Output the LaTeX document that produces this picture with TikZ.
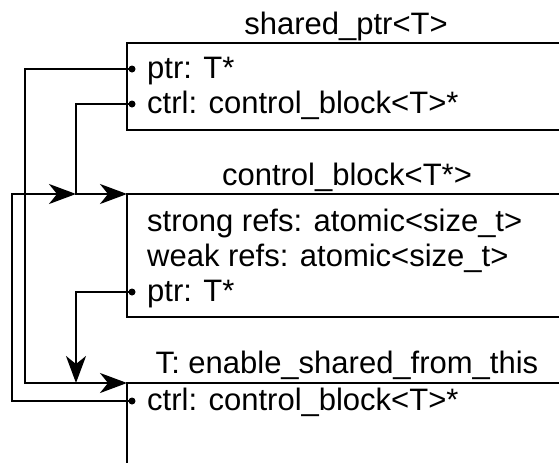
\documentclass[tikz,border=0pt]{standalone}
\usepackage{fontspec}
\setmainfont{Liberation Sans}
\usepackage{tikz}
\usetikzlibrary{arrows.meta}
\tikzstyle{title} = [anchor=base, inner sep=0pt, font=\fontsize{31}{36}\selectfont]
\tikzstyle{field} = [anchor=base west, inner sep=0pt, font=\fontsize{31}{36}\selectfont]
\tikzstyle{dot} = [circle, fill=black, inner sep=0pt, minimum size=7pt]
\tikzstyle{wire} = [line width=2.3pt]
\tikzstyle{arrow} = [line width=2.3pt, -{Stealth[length=27pt, width=20pt, inset=8pt]}]

\begin{document}
\begin{tikzpicture}[x=1pt, y=-1pt]
                        \useasboundingbox (0,0) rectangle (559,463);

                        % box corners and rails
                        \coordinate (sp) at (127,43);
                        \coordinate (cb) at (127,194);
                        \coordinate (ts) at (127,383);
                        \coordinate (railA) at (25,0);
                        \coordinate (railB) at (76,0);
                        \coordinate (railC) at (12,0);

                        \draw[wire] (559,43) -- (sp) -- (127,130) -- (559,130);
                        \draw[wire] (559,194) -- (cb) -- (127,317) -- (559,317);
                        \draw[wire] (559,383) -- (ts) -- (127,463);

                        \node (spTitle) [title] at (346,34) {shared\_ptr<T>};
                        \node (cbTitle) [title] at (347,185) {control\_block<T*>};
                        \node (tsTitle) [title] at (347,373) {T: enable\_shared\_from\_this};

                        \node (spPtrTxt) [field] at (147,78) {ptr: T*};
                        \node (spCtrlTxt) [field] at (147,113) {ctrl: control\_block<T>*};
                        \node (cbStrong) [field] at (147,231) {strong refs: atomic<size\_t>};
                        \node (cbWeak) [field] at (147,266) {weak refs: atomic<size\_t>};
                        \node (cbPtrTxt) [field] at (147,301) {ptr: T*};
                        \node (tsCtrlTxt) [field] at (147,410) {ctrl: control\_block<T>*};

                        \node (spPtr) [dot] at (132,69) {};
                        \node (spCtrl) [dot] at (132,104) {};
                        \node (cbPtr) [dot] at (132,292) {};
                        \node (tsCtrl) [dot] at (132,401) {};

                        \coordinate (join) at (railB |- cb);

                        \draw[arrow] (spPtr.center) -| (railA |- ts) -- (ts);
                        \draw[arrow] (spCtrl.center) -| (join) -- (cb);
                        \draw[arrow] (tsCtrl.center) -| (railC |- cb) -- (join);
                        \draw[arrow] (cbPtr.center) -| (railB |- ts);

                    \end{tikzpicture}
\end{document}
